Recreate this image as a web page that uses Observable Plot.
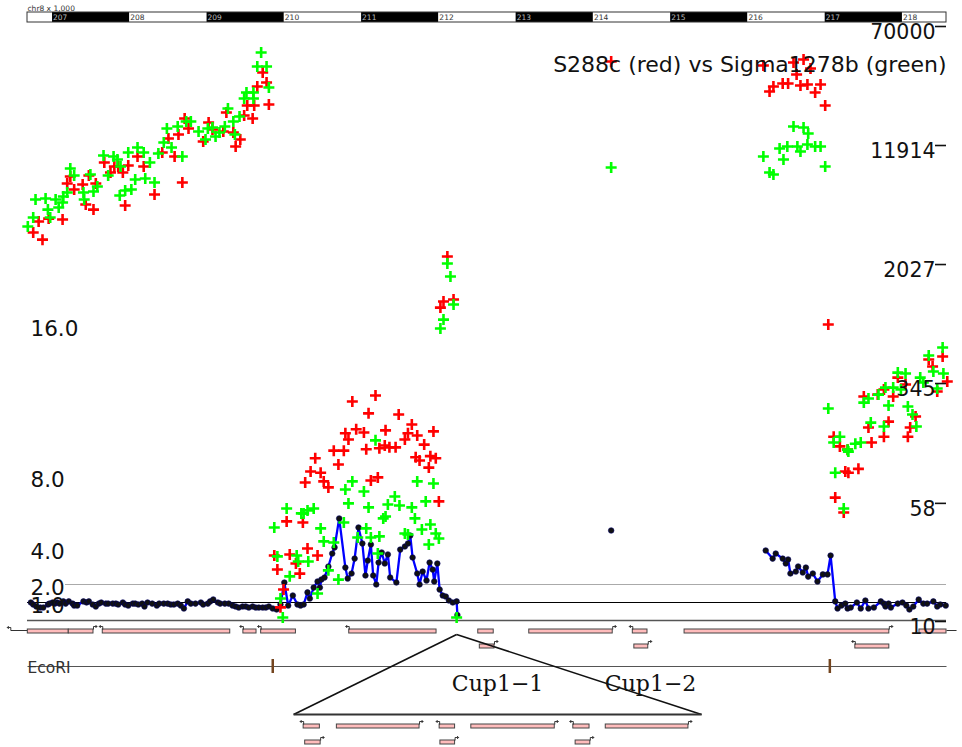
<!DOCTYPE html>
<html><head><meta charset="utf-8">
<script src="https://cdn.jsdelivr.net/npm/d3@7"></script>
<script src="https://cdn.jsdelivr.net/npm/@observablehq/plot@0.6"></script>
<style>
body{margin:0;background:#fff;}
#chart{position:relative;width:962px;height:747px;overflow:hidden;background:#fff;}
#chart svg{position:absolute;left:0;top:0;}
</style></head><body><div id="chart"></div>
<script>
// ---------------- DATA ----------------
const region = [206.676, 218.57];            // kb on chr8
const rulerTitle = "chr8 x 1,000";
const rulerTicks = [207,208,209,210,211,212,213,214,215,216,217,218];
const title = "S288c (red) vs Sigma1278b (green)";
const cnTicks = [16, 8, 4, 2, 1];
const signalTicks = [70000, 11914, 2027, 345, 58, 10];

// copy number (pos kb, copies)
const cnLeft = [[206.72,1.0],[206.75,.89],[206.79,.78],[206.84,.72],[206.88,.72],[206.94,.89],[206.96,.94],[207.00,1.0],[207.03,.94],[207.06,1.0],[207.09,.94],[207.14,1.06],[207.17,.94],[207.21,1.06],[207.26,.94],[207.28,.83],[207.32,.83],[207.40,1.06],[207.44,1.0],[207.47,1.06],[207.52,.89],[207.56,.78],[207.60,.94],[207.63,1.0],[207.69,.94],[207.72,.94],[207.78,.94],[207.82,.94],[207.85,.89],[207.91,1.0],[207.94,.89],[207.98,.83],[208.04,.94],[208.07,.94],[208.11,.89],[208.16,.94],[208.19,.78],[208.23,1.0],[208.29,.94],[208.35,.83],[208.38,.94],[208.44,.94],[208.49,.94],[208.53,.89],[208.57,.89],[208.62,.94],[208.66,.83],[208.70,.67],[208.75,1.06],[208.79,.94],[208.85,.94],[208.92,1.0],[208.95,.89],[209.01,.94],[209.04,1.06],[209.08,1.17],[209.14,1.0],[209.17,.94],[209.23,.94],[209.28,.94],[209.33,.83],[209.37,.78],[209.41,.72],[209.46,.78],[209.50,.78],[209.54,.72],[209.59,.78],[209.63,.72],[209.67,.72],[209.72,.72],[209.76,.72],[209.80,.78],[209.85,.67],[209.90,.61],[209.95,.89],[210.00,2.11],[210.05,.83],[210.11,1.39],[210.17,.89],[210.21,.83],[210.25,.89],[210.30,1.56],[210.33,1.22],[210.38,1.83],[210.43,2.17],[210.46,1.83],[210.48,2.28],[210.52,2.39],[210.57,3.0],[210.62,3.72],[210.65,4.06],[210.71,5.67],[210.79,2.94],[210.82,2.33],[210.87,2.61],[210.91,3.44],[210.96,5.17],[211.01,4.28],[211.05,2.5],[211.08,3.33],[211.12,4.22],[211.15,2.5],[211.19,2.0],[211.22,3.22],[211.26,3.78],[211.30,3.17],[211.34,3.67],[211.37,2.39],[211.45,2.11],[211.50,3.94],[211.56,4.11],[211.60,4.28],[211.63,4.72],[211.66,3.5],[211.72,2.61],[211.75,2.0],[211.79,2.72],[211.84,2.22],[211.88,3.22],[211.92,2.83],[211.94,2.17],[211.98,3.17],[212.01,1.72],[212.05,1.39],[212.09,1.33],[212.13,1.11],[212.18,1.0],[212.23,1.06],[212.24,0.3]];
const cnSingle = [[214.23,5.0]];
const cnRight = [[216.23,3.89],[216.32,3.44],[216.36,3.72],[216.45,3.44],[216.49,3.17],[216.52,3.39],[216.55,2.61],[216.62,2.72],[216.65,3.0],[216.71,2.67],[216.75,2.94],[216.78,2.44],[216.84,2.61],[216.90,2.17],[216.97,2.56],[217.03,2.56],[217.07,3.61],[217.13,1.06],[217.16,.67],[217.21,.83],[217.26,.94],[217.29,.67],[217.33,.72],[217.41,1.0],[217.46,.67],[217.52,1.11],[217.56,.67],[217.63,.72],[217.72,1.06],[217.76,.94],[217.78,.78],[217.82,.94],[217.85,.72],[217.94,.94],[218.00,1.0],[218.05,.83],[218.09,.61],[218.14,.78],[218.21,1.17],[218.27,.94],[218.32,.94],[218.40,1.06],[218.45,.78],[218.49,.89],[218.56,.83]];

// S288c signal (red), pos kb, value
const redSignal = [[206.75,3570],[206.87,3210],[206.82,4200],[206.95,4390],[207.13,4330],[207.19,7400],[207.23,8210],[207.28,6770],[207.39,7290],[207.43,5410],[207.47,8340],[207.53,5020],[207.56,7400],[207.67,10110],[207.75,8720],[207.80,9530],[207.85,9530],[207.91,8720],[207.98,9670],[207.94,5330],[208.10,11060],[208.18,9530],[208.32,6280],[208.42,11740],[208.50,14460],[208.58,11060],[208.63,15350],[208.68,7510],[208.71,19470],[208.76,16780],[208.95,13830],[209.02,18350],[209.07,16530],[209.21,16050],[209.25,21290],[209.34,15810],[209.37,12830],[209.43,14240],[209.48,20360],[209.52,23630],[209.59,19470],[209.61,23630],[209.65,31360],[209.72,38630],[209.77,33280],[209.80,23990],
[209.87,29.2],[209.91,23.7],[210.03,48.5],[210.07,29.6],[210.15,25.9],[210.20,22.3],[210.24,47.7],[210.27,86.6],[210.30,32.4],[210.34,102],[210.40,124],[210.43,29.2],[210.47,100],[210.51,87.9],[210.57,80.4],[210.64,139],[210.70,113],[210.77,139],[210.79,180],[210.83,164],[210.88,289],[210.93,191],[211.03,182],[211.06,142],[211.09,242],[211.12,89.2],[211.18,316],[211.21,93.3],[211.23,144],[211.31,188],[211.30,150],[211.36,146],[211.44,146],[211.48,238],[211.56,164],[211.60,180],[211.65,205],[211.72,174],[211.70,126],[211.75,120],[211.81,152],[211.87,108],[211.89,128],[211.93,185],[211.96,124],[212.00,65.3],[209.99,17.6],[209.95,13.5],
[212.11,2497],[212.06,1278],[212.02,1168],[212.19,1316],
[214.23,45490],
[216.20,42870],[216.33,31360],[216.28,29110],[216.45,32790],[216.52,32790],[216.59,44820],[216.63,37490],[216.68,31830],[216.72,46870],[216.77,32310],[216.81,40990],[216.87,28680],[216.94,32310],[217.00,23630],
[217.04,908],[217.50,311],[217.88,311],[217.68,320],[217.76,345],[217.94,412],[218.04,372],[218.34,539],[218.39,486],[218.52,564],[218.45,335],[218.17,231],[218.10,196],[218.07,171],[217.82,214],[217.56,196],[217.76,171],[217.60,157],[217.11,171],[217.19,148],[217.29,141],[217.26,102],[217.30,100],[217.43,106],[217.13,69.1],[217.24,55.3],[218.58,389]];

// Sigma1278b signal (green), pos kb, value
const greenSignal = [[206.68,3900],[206.75,4460],[206.78,5830],[206.91,5920],[206.94,5020],[206.97,4460],[207.04,5830],[207.08,5180],[207.13,5580],[207.14,6100],[207.19,6470],[207.23,9250],[207.28,8340],[207.40,6470],[207.41,5830],[207.49,8460],[207.53,6570],[207.58,7080],[207.66,11220],[207.72,8340],[207.79,11060],[207.84,10580],[207.88,9530],[207.87,6190],[207.94,6670],[207.98,11740],[208.02,6770],[208.07,7850],[208.10,12650],[208.18,11740],[208.20,7970],[208.26,10110],[208.32,7510],[208.37,11560],[208.44,13620],[208.48,16780],[208.54,12650],[208.62,17290],[208.68,11060],[208.73,18620],[208.79,18620],[208.89,16050],[208.98,14240],[209.01,16780],[209.07,17030],[209.11,14900],[209.16,15810],[209.23,17290],[209.27,22600],[209.34,18620],[209.36,15350],[209.42,20060],[209.48,26230],[209.51,28680],[209.60,26230],[209.60,28680],[209.65,42230],[209.70,52020],[209.77,42230],[209.80,30890],
[209.87,44.3],[209.91,28.8],[210.03,58.8],[210.07,21.4],[210.16,29.2],[210.18,26.7],[210.22,54.6],[210.25,54.6],[210.30,57.1],[210.31,26.7],[210.38,58.8],[210.43,16.6],[210.47,43.7],[210.51,36.0],[210.57,23.4],[210.64,35.4],[210.70,20.4],[210.77,47.7],[210.79,78.0],[210.83,63.4],[210.88,87.9],[210.95,38.2],[211.03,75.7],[211.06,43.7],[211.09,59.7],[211.12,38.2],[211.18,162],[211.21,30.1],[211.23,38.8],[211.28,50.7],[211.31,52.2],[211.34,62.4],[211.43,70.3],[211.49,61.5],[211.56,40.5],[211.60,39.9],[211.65,59.7],[211.69,50.7],[211.72,87.9],[211.78,43.0],[211.83,65.3],[211.87,34.4],[211.89,46.3],[211.93,85.3],[211.96,40.5],[212.00,37.6],[209.95,15.4],[209.98,11.6],[212.23,11.6],
[212.11,2250],[212.15,1854],[212.19,1222],[212.06,977],[212.02,855],
[214.23,9390],
[216.59,17290],[216.72,17030],[216.78,15580],[216.41,12460],[216.51,12830],[216.64,12830],[216.68,11914],[216.77,13220],[216.87,12830],[216.94,12830],[216.20,11060],[216.46,10580],[216.28,8720],[216.33,8460],[217.00,9530],
[217.04,260],[217.13,100],[217.19,171],[217.11,157],[217.29,141],[217.30,137],[217.39,154],[217.46,157],[217.59,211],[217.76,199],[217.82,272],[217.50,284],[217.56,302],[217.69,320],[217.78,355],[217.88,355],[217.98,345],[217.94,444],[218.04,438],[218.07,268],[218.13,238],[218.18,199],[218.23,412],[218.27,383],[218.34,572],[218.40,451],[218.45,350],[218.52,645],[218.53,438],[217.24,58.7]];

// genes: [start kb, end kb, row, strand]
const genes = [[206.68,207.21,1,""],[207.21,207.53,1,"+"],[207.65,209.30,1,"-"],[209.47,209.64,1,"-"],[209.70,210.15,1,"-"],[210.84,211.97,1,"-"],[212.51,212.71,1,""],[213.17,214.25,1,"+"],[214.51,214.70,1,"-"],[215.18,217.83,1,"+"],[218.22,218.57,1,""],[212.53,212.72,2,"+"],[214.53,214.71,2,"+"],[217.39,217.83,2,"-"]];
const geneLines = [[206.46,206.68,1,"-"],[218.57,218.70,1,""]];
const ecoRISites = [209.85, 217.06];
const cupApex = 212.23;
const cupSpan = [210.12, 215.40];
const cupLabels = [["Cup1\u22121", 212.76], ["Cup1\u22122", 214.74]];
// genes of the magnified CUP1 repeat view: [start, end, row, strand]
const zoomGenes = [[210.25,210.46,1,"-"],[210.68,211.75,1,"+"],[212.01,212.21,1,"-"],[212.42,213.50,1,"+"],[213.74,213.95,1,"-"],[214.16,215.23,1,"+"],[210.27,210.47,2,"+"],[212.02,212.21,2,"+"],[213.77,213.96,2,"+"]];

// ---------------- LAYOUT / STYLE ----------------
const W = 962, H = 747;
const font = "DejaVu Sans";
const xOpt = {domain: region, range: [27, 946], axis: null};
const common = {width: W, height: H, marginLeft: 27, marginRight: 16, marginTop: 0, marginBottom: 0,
  style: {background: "none", fontFamily: font, overflow: "visible"}};
const geneRowY = {1: 631, 2: 646};
const zoomRowY = {1: 726, 2: 742};
const geneFill = "#ffbcbc", geneStroke = "#444";

const plusSym = {draw(ctx, size) { const r = Math.sqrt(size / Math.PI); ctx.moveTo(-r, 0); ctx.lineTo(r, 0); ctx.moveTo(0, -r); ctx.lineTo(0, r); }};
const arrowR = {draw(ctx) { ctx.moveTo(0, 0); ctx.lineTo(0, -3); ctx.lineTo(3.5, -3); ctx.moveTo(2, -4.5); ctx.lineTo(3.5, -3); ctx.lineTo(2, -1.5); }};
const arrowL = {draw(ctx) { ctx.moveTo(0, 0); ctx.lineTo(0, -3); ctx.lineTo(-3.5, -3); ctx.moveTo(-2, -4.5); ctx.lineTo(-3.5, -3); ctx.lineTo(-2, -1.5); }};

function geneMarks(list, rowY, h) {
  const plus = list.filter(g => g[3] === "+"), minus = list.filter(g => g[3] === "-");
  return [
    Plot.rect(list, {x1: g => g[0], x2: g => g[1], y1: g => rowY[g[2]] - h, y2: g => rowY[g[2]] + h, fill: geneFill, stroke: geneStroke, strokeWidth: 1}),
    Plot.dot(plus, {x: g => g[1], y: g => rowY[g[2]] - h, symbol: arrowR, r: 3, fill: "none", stroke: "#222", strokeWidth: 0.9}),
    Plot.dot(minus, {x: g => g[0], y: g => rowY[g[2]] - h, symbol: arrowL, r: 3, fill: "none", stroke: "#222", strokeWidth: 0.9})
  ];
}

// ruler segments derived from tick list
const rulerSegs = [[region[0], rulerTicks[0], 0]].concat(rulerTicks.map((t, i) => [t, i < rulerTicks.length - 1 ? rulerTicks[i + 1] : region[1], i % 2 === 0 ? 1 : 0]));

// -------- Plot A: ruler + annotation tracks --------
const tracks = Plot.plot({
  ...common,
  x: xOpt,
  y: {domain: [0, H], range: [0, H], axis: null},
  marks: [
    Plot.rect(rulerSegs, {x1: d => d[0], x2: d => d[1], y1: 12, y2: 22, fill: d => d[2] ? "#000" : "#fff"}),
    Plot.rect([region], {x1: d => d[0], x2: d => d[1], y1: 12, y2: 22, fill: "none", stroke: "#333", strokeWidth: 1}),
    Plot.text(rulerTicks, {x: d => d, y: 17.5, text: d => String(d), textAnchor: "start", dx: 0.5, fontSize: 7.5, fill: (d, i) => i % 2 === 0 ? "#bbb" : "#333"}),
    Plot.text([rulerTitle], {x: region[0], y: 8, text: d => d, textAnchor: "start", fontSize: 7.5, fill: "#333"}),
    // main gene track
    Plot.link(geneLines, {x1: g => g[0], x2: g => g[1], y1: g => geneRowY[g[2]] - 1, y2: g => geneRowY[g[2]] - 1, stroke: "#333", strokeWidth: 1}),
    Plot.dot(geneLines.filter(g => g[3] === "-"), {x: g => g[0], y: g => geneRowY[g[2]] - 1, symbol: arrowL, r: 3, fill: "none", stroke: "#222", strokeWidth: 0.9}),
    ...geneMarks(genes, geneRowY, 2),
    // EcoRI track
    Plot.link([region], {x1: d => d[0], x2: d => d[1], y1: 666, y2: 666, stroke: "#555", strokeWidth: 1.2}),
    Plot.text(["EcoRI"], {x: region[0], y: 668, text: d => d, textAnchor: "start", fontSize: 15.5, fill: "#333"}),
    Plot.ruleX(ecoRISites, {x: d => d, y1: 659, y2: 673, stroke: "#74451f", strokeWidth: 2.5}),
    // CUP1 magnification triangle
    Plot.link([[cupApex, cupSpan[0]], [cupApex, cupSpan[1]]], {x1: d => d[0], x2: d => d[1], y1: 634, y2: 714, stroke: "#111", strokeWidth: 1.6}),
    Plot.link([cupSpan], {x1: d => d[0], x2: d => d[1], y1: 714, y2: 714, stroke: "#333", strokeWidth: 2}),
    Plot.text(cupLabels, {x: d => d[1], y: 683, text: d => d[0], fontFamily: "DejaVu Serif", fontSize: 22, fill: "#111"}),
    ...geneMarks(zoomGenes, zoomRowY, 2)
  ]
});

// -------- Plot B: copy number --------
const cnData = cnLeft.map(d => ({pos: d[0], cn: d[1], seg: "a"}))
  .concat(cnSingle.map(d => ({pos: d[0], cn: d[1], seg: "b"})))
  .concat(cnRight.map(d => ({pos: d[0], cn: d[1], seg: "c"})));
const copyPlot = Plot.plot({
  ...common,
  x: xOpt,
  y: {domain: [0, 16], range: [620, 332], axis: null},
  marks: [
    Plot.ruleY([0], {stroke: "#555", strokeWidth: 1.5}),
    Plot.ruleY([2], {stroke: "#aaa", strokeWidth: 1.2, insetLeft: 38}),
    Plot.ruleY([1], {stroke: "#000", strokeWidth: 1}),
    Plot.line(cnData, {x: "pos", y: "cn", z: "seg", stroke: "#0000ff", strokeWidth: 2.3}),
    Plot.dot(cnData, {x: "pos", y: "cn", r: 2.8, fill: "#111", stroke: "#000066", strokeWidth: 0.6}),
    Plot.text(cnTicks.filter(d => d < 16), {y: d => d, frameAnchor: "left", textAnchor: "start", dx: 3, dy: 4, text: d => d.toFixed(1), fontSize: 21.5, fill: "#111"}),
    Plot.text(cnTicks.filter(d => d >= 16), {y: d => d, frameAnchor: "left", textAnchor: "start", dx: 3, dy: -3, text: d => d.toFixed(1), fontSize: 21.5, fill: "#111"})
  ]
});

// -------- Plot C: hybridisation signals (log) --------
const sig = (arr) => arr.map(d => ({pos: d[0], v: d[1]}));
const signalPlot = Plot.plot({
  ...common,
  x: xOpt,
  y: {type: "log", domain: [10, 70000], range: [627, 32], axis: null},
  marks: [
    Plot.dot(sig(redSignal), {x: "pos", y: "v", symbol: plusSym, r: 5.5, fill: "none", stroke: "#ff0000", strokeWidth: 2.6}),
    Plot.dot(sig(greenSignal), {x: "pos", y: "v", symbol: plusSym, r: 5.5, fill: "none", stroke: "#00ff00", strokeWidth: 2.6}),
    Plot.tickY(signalTicks, {y: d => d, dy: -6, insetLeft: 908, stroke: "#111", strokeWidth: 1.6}),
    Plot.text(signalTicks, {y: d => d, frameAnchor: "right", textAnchor: "end", dx: -11, text: d => String(d), fontSize: 20.5, fill: "#111"}),
    Plot.text([title], {y: () => 11914 * 4.1, dy: 8, frameAnchor: "right", textAnchor: "end", text: d => d, fontSize: 22, fill: "#111"})
  ]
});

const root = document.getElementById("chart");
for (const p of [tracks, copyPlot, signalPlot]) root.appendChild(p);
</script></body></html>
